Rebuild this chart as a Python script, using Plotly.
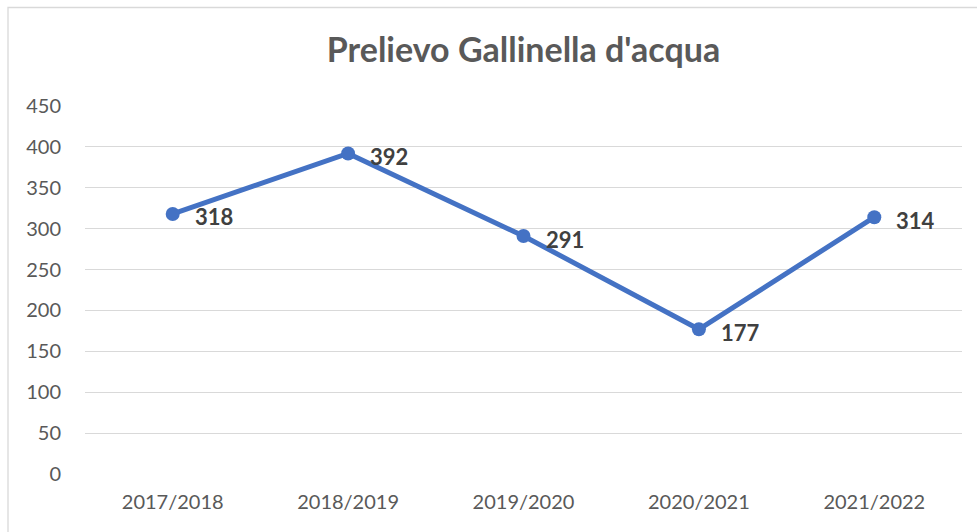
import plotly.graph_objects as go

stagioni = ["2017/2018", "2018/2019", "2019/2020", "2020/2021", "2021/2022"]
prelievi = [318, 392, 291, 177, 314]
y_ticks = [0, 50, 100, 150, 200, 250, 300, 350, 400, 450]

FONT = "Lato, Carlito, Calibri, sans-serif"

fig = go.Figure()
fig.add_trace(go.Scatter(
    x=stagioni, y=prelievi,
    mode="lines+markers",
    line=dict(color="#4472C4", width=5),
    marker=dict(color="#4472C4", size=14),
    cliponaxis=False,
    hoverinfo="x+y",
))

for s, v in zip(stagioni, prelievi):
    fig.add_annotation(
        x=s, y=v, text=f"<b>{v}</b>", showarrow=False,
        xanchor="left", yanchor="middle", xshift=20, yshift=-3,
        font=dict(family=FONT, size=22, color="#404040"),
    )

fig.update_layout(
    width=977, height=532,
    margin=dict(l=85, r=15, t=106, b=58),
    paper_bgcolor="white", plot_bgcolor="white",
    showlegend=False,
    title=dict(
        text="<b>Prelievo Gallinella d'acqua</b>",
        x=0.5, xref="paper", xanchor="center",
        y=1 - 50 / 532, yref="container", yanchor="middle",
        font=dict(family=FONT, size=34, color="#595959"),
    ),
    xaxis=dict(
        type="category", range=[-0.5, 4.5],
        showgrid=False, zeroline=False, showline=False,
        ticks="", tickfont=dict(family=FONT, size=20, color="#595959"),
        ticklabelstandoff=14,
    ),
    yaxis=dict(
        range=[0, 450],
        tickvals=y_ticks,
        showgrid=True, gridcolor="#D9D9D9", gridwidth=1.3,
        zeroline=False, showline=False, ticks="",
        tickfont=dict(family=FONT, size=20, color="#595959"),
        ticklabelstandoff=23,
    ),
    shapes=[dict(
        type="rect", xref="paper", yref="paper",
        x0=(8 - 85) / 877, x1=(990 - 85) / 877,
        y0=(474 - 545) / 368, y1=1 + (106 - 7.5) / 368,
        line=dict(color="#D9D9D9", width=1.3),
        fillcolor="rgba(0,0,0,0)", layer="below",
    )],
)

fig.write_html(
    "out.html",
    config={"displayModeBar": False},
    post_script="document.body.style.margin='0px';",
)
